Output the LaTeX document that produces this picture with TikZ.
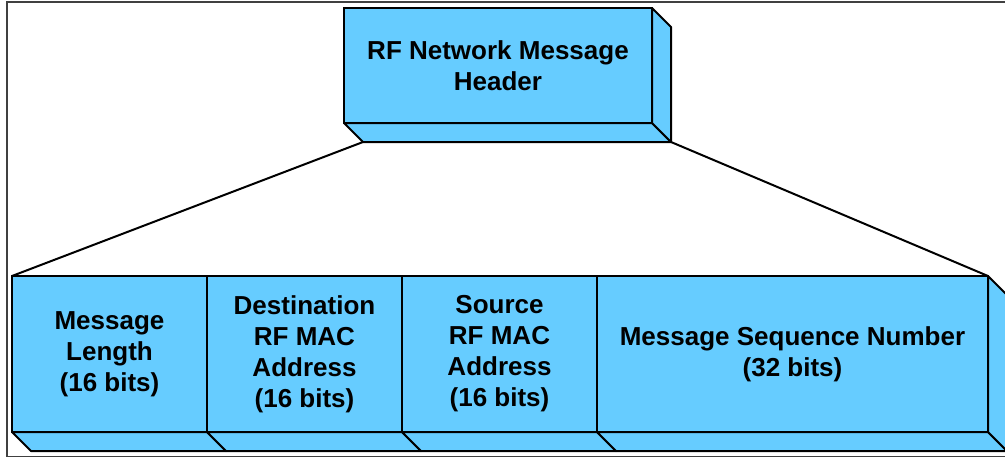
\documentclass[tikz,border=0pt]{standalone}
\usepackage{fontspec}
\setmainfont{Liberation Sans}
\usetikzlibrary{positioning}
\definecolor{fieldblue}{RGB}{102,204,255}
\tikzset{
  field/.style={draw=black, fill=fieldblue, line width=1.5pt, align=center, inner sep=0pt, outer sep=0pt,
    font=\fontsize{19.5}{23.25}\selectfont\bfseries, minimum height=117pt},
  face/.style={draw=black, fill=fieldblue, line width=1.5pt, line join=round},
  link/.style={draw=black, line width=1.5pt}
}
\begin{document}
\begin{tikzpicture}[x=0.75pt,y=0.75pt,yscale=-1,xscale=1]
  \useasboundingbox (0,0) rectangle (1005,458);
  % outer frame
  \draw [line width=1.2pt, black!75] (7,2) rectangle (1030,456.5);
  % header block
  \node [field, minimum width=231pt, minimum height=86.25pt] (hdr) at (498,65.5) {RF Network Message\\Header};
  \path (hdr.south west) ++(19,19) coordinate (hdrbl);
  \path (hdr.south east) ++(19,19) coordinate (hdrbr);
  \draw [face] (hdr.south west) -- (hdrbl) -- (hdrbr) -- (hdr.south east) -- cycle;
  \draw [face] (hdr.north east) -- ++(19,19) -- (hdrbr) -- (hdr.south east) -- cycle;
  % header fields
  \node [field, minimum width=146.25pt] (len) at (109.5,354) {Message\\Length\\(16 bits)};
  \node [field, minimum width=146.25pt, right=0pt of len] (dst) {Destination\\RF MAC\\Address\\(16 bits)};
  \node [field, minimum width=146.25pt, right=0pt of dst] (src) {Source\\RF MAC\\Address\\(16 bits)};
  \node [field, minimum width=293.25pt, right=0pt of src] (seq) {Message Sequence Number\\(32 bits)};
  \foreach \f in {len,dst,src,seq}{
    \path (\f.south east) ++(19,19) coordinate (\f br);
    \draw [face] (\f.south west) -- ++(19,19) -- (\f br) -- (\f.south east) -- cycle;
  }
  \draw [face] (seq.north east) -- ++(19,19) -- (seqbr) -- (seq.south east) -- cycle;
  % expansion lines
  \draw [link] (hdrbl) -- (len.north west);
  \draw [link] (hdrbr) -- (seq.north east);
\end{tikzpicture}
\end{document}
